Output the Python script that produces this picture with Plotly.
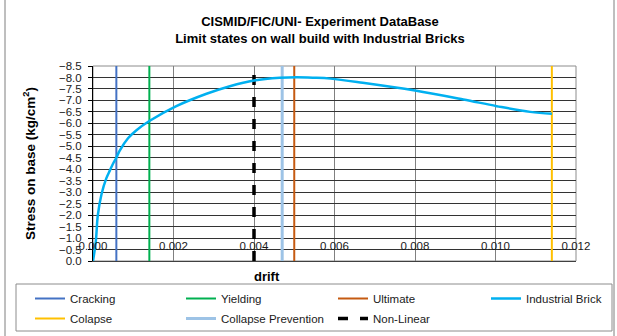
import plotly.graph_objects as go

# Industrial brick curve (drift vs stress on base, kg/cm2)
drift = [0, 0.00007, 0.00012, 0.00021, 0.00033, 0.00042, 0.0005, 0.00058, 0.00066,
         0.00087, 0.00108, 0.0014, 0.00207, 0.00282, 0.0034, 0.004, 0.00464,
         0.00506, 0.00547, 0.0059, 0.0067, 0.008, 0.0092, 0.01003, 0.01086, 0.0114]
stress = [0, -0.86, -2.0, -2.9, -3.6, -3.95, -4.25, -4.5, -4.8,
          -5.35, -5.7, -6.1, -6.75, -7.29, -7.62, -7.87, -7.99,
          -8.01, -7.99, -7.95, -7.77, -7.43, -7.04, -6.75, -6.5, -6.42]

# Limit states (drift positions)
limit_names = ["Cracking", "Yielding", "Ultimate"]
limit_drifts = [0.00058, 0.0014, 0.005]
limit_colors = ["#4472C4", "#00B050", "#C55A11"]
collapse_drift = 0.0114
collapse_prev_drift = 0.0047
nonlinear_drift = 0.004
y_span = [0, -8.5]
x_ticks = [0, 0.002, 0.004, 0.006, 0.008, 0.010, 0.012]

W, H = 617, 336
L, R, T, B = 93, 41, 66, 75
pw, ph = W - L - R, H - T - B


def px2x(px):
    return (px - L) / pw


def py2y(py):
    return (H - B - py) / ph


# legend slots (text start x, row center y) -> one legend per entry
legend_cols = [70, 221, 373, 526]
legend_rows = [297, 317]

fig = go.Figure()
entries = []
for name, d, c in zip(limit_names, limit_drifts, limit_colors):
    entries.append(go.Scatter(x=[d, d], y=y_span, mode="lines", name=name,
                              line=dict(color=c, width=2)))
entries.append(go.Scatter(x=drift, y=stress, mode="lines", name="Industrial Brick",
                          xaxis="x2",
                          line=dict(color="#00B0F0", width=2.5, shape="spline")))
entries.append(go.Scatter(x=[collapse_drift, collapse_drift], y=y_span, mode="lines",
                          name="Colapse", line=dict(color="#FFC000", width=2)))
entries.append(go.Scatter(x=[collapse_prev_drift, collapse_prev_drift], y=y_span,
                          mode="lines", name="Collapse Prevention",
                          line=dict(color="#9DC3E6", width=3)))
entries.append(go.Scatter(x=[nonlinear_drift, nonlinear_drift], y=y_span, mode="lines",
                          name="Non-Linear",
                          line=dict(color="black", width=3.5, dash="10px,12px")))

legend_layout = {}
for i, tr in enumerate(entries):
    key = "legend" if i == 0 else f"legend{i + 1}"
    tr.legend = key
    col, row = i % 4, i // 4
    legend_layout[key] = dict(
        x=px2x(legend_cols[col] - 40), xanchor="left",
        y=py2y(legend_rows[row] - 13), yanchor="top",
        bgcolor="rgba(0,0,0,0)", borderwidth=0,
        font=dict(size=11.5, color="#1a1a1a"),
    )
    fig.add_trace(tr)

fig.update_layout(
    width=W, height=H,
    margin=dict(l=L, r=R, t=T, b=B, autoexpand=False),
    paper_bgcolor="white", plot_bgcolor="white",
    font=dict(family="Liberation Sans, Arial, sans-serif", size=11.5, color="black"),
    title=dict(text="<b>CISMID/FIC/UNI- Experiment DataBase<br>Limit states on wall build with Industrial Bricks</b>",
               x=320 / W, xanchor="center", y=1 - 26 / H, yanchor="middle",
               font=dict(size=13)),
    showlegend=True,
    xaxis=dict(range=[0, 0.012], tickvals=x_ticks,
               showgrid=True, gridcolor="#808080", gridwidth=1,
               showline=True, linecolor="#404040", linewidth=1,
               ticks="", showticklabels=False, zeroline=False),
    xaxis2=dict(range=[0, 0.012], tickvals=x_ticks, tickformat=".3f",
                overlaying="x", anchor="free", position=py2y(237), side="bottom",
                showgrid=False, showline=False, ticks="", zeroline=False,
                tickfont=dict(size=11.5, color="#1a1a1a")),
    yaxis=dict(range=[0, -8.5], dtick=0.5, tick0=0, tickformat=".1f",
               showgrid=True, gridcolor="#333333", gridwidth=1,
               showline=True, linecolor="black", linewidth=1,
               ticks="outside", ticklen=4, tickcolor="black", ticklabelstandoff=4,
               zeroline=False, tickfont=dict(size=11.5, color="#1a1a1a"),
               title=dict(text="<b>Stress on base (kg/cm<sup>2</sup>)</b>",
                          font=dict(size=13.5), standoff=20)),
    annotations=[dict(text="<b>drift</b>", xref="paper", yref="paper",
                      x=px2x(267), y=py2y(276), xanchor="center", yanchor="middle",
                      showarrow=False, font=dict(size=13))],
    shapes=[
        # plot area frame (top/right grey)
        dict(type="rect", xref="paper", yref="paper", x0=0, x1=1, y0=0, y1=1,
             line=dict(color="#8c8c8c", width=1), layer="below"),
        # legend frame
        dict(type="rect", xref="paper", yref="paper",
             x0=px2x(16), x1=px2x(612), y0=py2y(331), y1=py2y(284),
             line=dict(color="#8c8c8c", width=1), layer="below"),
        # chart outer frame
        dict(type="rect", xref="paper", yref="paper",
             x0=px2x(5), x1=px2x(614), y0=py2y(340), y1=py2y(-3),
             line=dict(color="#7f7f7f", width=1), layer="below"),
    ],
    **legend_layout,
)

fig.write_html("out.html", config={"displayModeBar": False},
               post_script="document.body.style.margin='0px';")
